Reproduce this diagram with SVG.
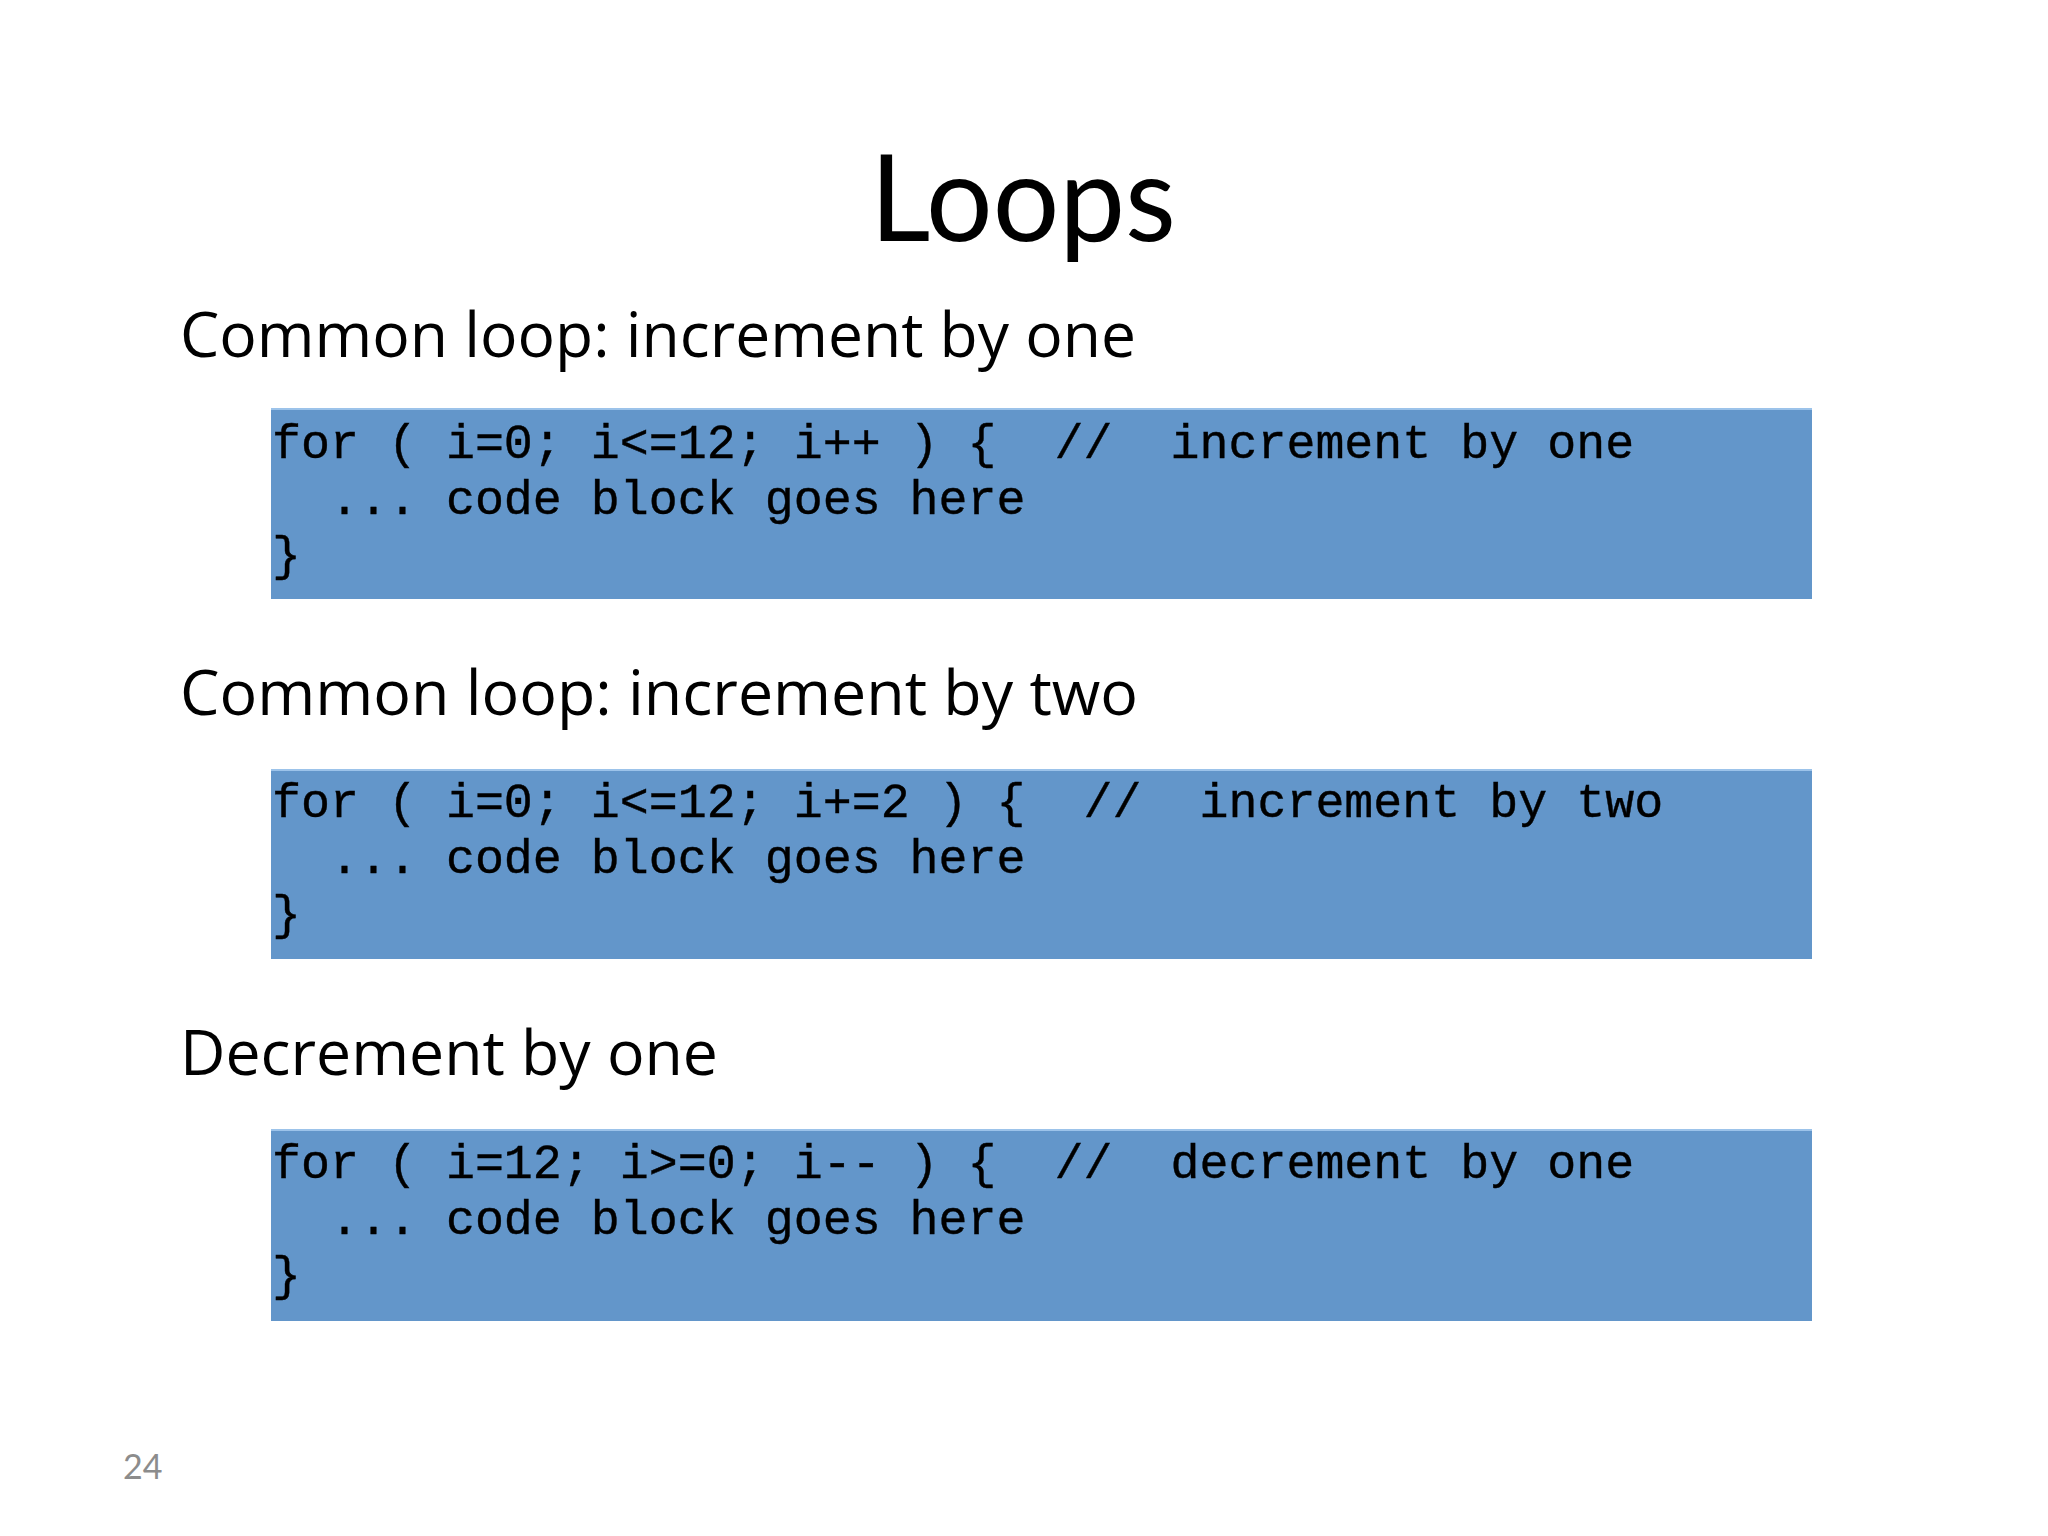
<svg xmlns="http://www.w3.org/2000/svg" width="2048" height="1536" viewBox="0 0 2048 1536">
  <style>
    .title { font-family: Lato, "Open Sans", sans-serif; font-size: 120px; fill: #000; }
    .head { font-family: "Open Sans", "Noto Sans", sans-serif; font-size: 63px; fill: #000; }
    .box { fill: #6396CA; }
    .edge { stroke: #9CC3EA; stroke-width: 2; }
    .code { font-family: "Liberation Mono", "Courier New", monospace; font-size: 48.3px; fill: #000; stroke: #000; stroke-width: 0.4; white-space: pre; }
    .page { font-family: Lato, "Open Sans", sans-serif; font-size: 34px; fill: #8C8C8C; }
  </style>
  <rect width="2048" height="1536" fill="#FFFFFF"/>

  <g id="title">
    <text class="title" x="870" y="241" textLength="306" lengthAdjust="spacingAndGlyphs">Loops</text>
  </g>

  <g id="section1">
    <text class="head" x="180" y="357" textLength="956" lengthAdjust="spacingAndGlyphs">Common loop: increment by one</text>
    <rect class="box" x="271" y="408" width="1541" height="191"/>
    <line class="edge" x1="271" y1="409" x2="1812" y2="409"/>
    <text class="code" x="272" y="458" xml:space="preserve">for ( i=0; i&lt;=12; i++ ) {  //  increment by one</text>
    <text class="code" x="272" y="514" xml:space="preserve">  ... code block goes here</text>
    <text class="code" x="272" y="570" xml:space="preserve">}</text>
  </g>

  <g id="section2">
    <text class="head" x="180" y="715" textLength="958" lengthAdjust="spacingAndGlyphs">Common loop: increment by two</text>
    <rect class="box" x="271" y="769" width="1541" height="190"/>
    <line class="edge" x1="271" y1="770" x2="1812" y2="770"/>
    <text class="code" x="272" y="817" xml:space="preserve">for ( i=0; i&lt;=12; i+=2 ) {  //  increment by two</text>
    <text class="code" x="272" y="873" xml:space="preserve">  ... code block goes here</text>
    <text class="code" x="272" y="929" xml:space="preserve">}</text>
  </g>

  <g id="section3">
    <text class="head" x="180" y="1075" textLength="538" lengthAdjust="spacingAndGlyphs">Decrement by one</text>
    <rect class="box" x="271" y="1129" width="1541" height="192"/>
    <line class="edge" x1="271" y1="1130" x2="1812" y2="1130"/>
    <text class="code" x="272" y="1178" xml:space="preserve">for ( i=12; i&gt;=0; i-- ) {  //  decrement by one</text>
    <text class="code" x="272" y="1234" xml:space="preserve">  ... code block goes here</text>
    <text class="code" x="272" y="1290" xml:space="preserve">}</text>
  </g>

  <g id="page-number">
    <text class="page" x="123" y="1479">24</text>
  </g>
</svg>
